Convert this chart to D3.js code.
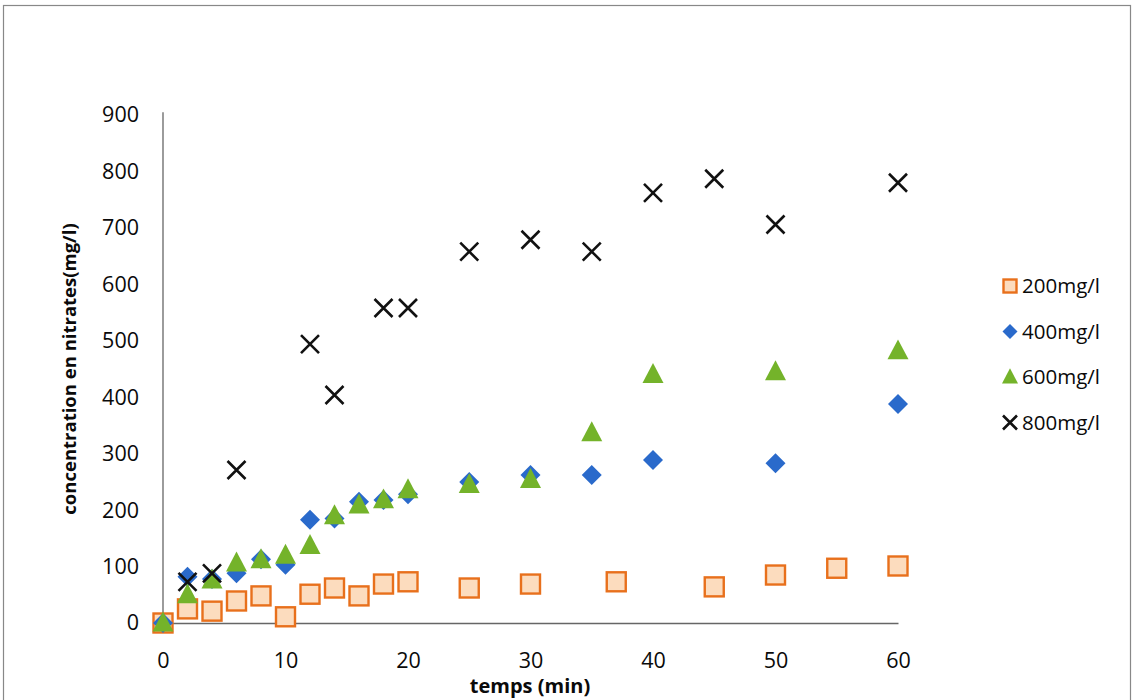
<!DOCTYPE html>
<html>
<head>
<meta charset="utf-8">
<script src="https://cdn.jsdelivr.net/npm/d3@7"></script>
<style>
  body { margin: 0; background: #fff; }
  svg { display: block; }
  text { font-family: "Open Sans", sans-serif; fill: #0a0a0a; }
</style>
</head>
<body>
<div id="chart"></div>
<script>
// times (min) per series
const t200 = [0, 2, 4, 6, 8, 10, 12, 14, 16, 18, 20, 25, 30, 37, 45, 50, 55, 60];
const c200 = [0, 25, 21, 39, 48, 11, 51, 62, 48, 69, 73, 62, 69, 73, 64, 85, 97, 101];

const t400 = [0, 2, 4, 6, 8, 10, 12, 14, 16, 18, 20, 25, 30, 35, 40, 50, 60];
const c400 = [0, 82, 78, 88, 113, 103, 183, 185, 215, 218, 228, 250, 262, 262, 289, 283, 388];

const t600 = [0, 2, 4, 6, 8, 10, 12, 14, 16, 18, 20, 25, 30, 35, 40, 50, 60];
const c600 = [0, 50, 76, 106, 112, 120, 137, 190, 209, 218, 236, 245, 254, 337, 440, 445, 482];

const t800 = [2, 4, 6, 12, 14, 18, 20, 25, 30, 35, 40, 45, 50, 60];
const c800 = [73, 88, 271, 494, 404, 558, 558, 658, 679, 658, 762, 787, 706, 780];

const xTicks = [0, 10, 20, 30, 40, 50, 60];
const yTicks = [0, 100, 200, 300, 400, 500, 600, 700, 800, 900];

const seriesNames = ['200mg/l', '400mg/l', '600mg/l', '800mg/l'];

const width = 1134, height = 700;

const svg = d3.select('#chart')
    .append('svg')
    .attr('width', width)
    .attr('height', height);

// outer frame
svg.append('rect')
    .attr('x', 3.5).attr('y', 5.5)
    .attr('width', 1127).attr('height', 720)
    .attr('fill', 'none')
    .attr('stroke', '#888')
    .attr('stroke-width', 1.2);

const x = d3.scaleLinear().domain([0, 60]).range([163, 898]);
const y = d3.scaleLinear().domain([0, 900]).range([623, 115]);

// axes
const xAxis = svg.append('g')
    .attr('transform', `translate(0,${y(0)})`)
    .call(d3.axisBottom(x).tickValues(xTicks).tickSize(0).tickPadding(30));
const yAxis = svg.append('g')
    .attr('transform', `translate(${x(0)},0)`)
    .call(d3.axisLeft(y).tickValues(yTicks).tickSize(0).tickPadding(24));

[xAxis, yAxis].forEach(g => {
    g.select('.domain').attr('stroke', '#666').attr('stroke-width', 1.3);
    g.selectAll('text')
        .style('font-family', '"Open Sans", sans-serif')
        .style('font-size', '21.5px')
        .attr('fill', '#0a0a0a');
});
yAxis.select('.domain').attr('d', `M0,${y(0)}V${y(905)}`);

// axis titles
svg.append('text')
    .attr('x', 530).attr('y', 693)
    .attr('text-anchor', 'middle')
    .style('font-weight', 'bold')
    .style('font-size', '20px')
    .text('temps (min)');

svg.append('text')
    .attr('transform', 'translate(76,369) rotate(-90)')
    .attr('text-anchor', 'middle')
    .style('font-weight', 'bold')
    .style('font-size', '18.5px')
    .text('concentration en nitrates(mg/l)');

// marker drawers
const drawSquare = (sel, s) => sel.append('rect')
    .attr('x', -s / 2).attr('y', -s / 2).attr('width', s).attr('height', s)
    .attr('fill', '#fcdcbe').attr('stroke', '#e8701c').attr('stroke-width', 2.4);
const drawDiamond = (sel, s) => sel.append('path')
    .attr('d', `M0,${-s / 2}L${s / 2},0L0,${s / 2}L${-s / 2},0Z`)
    .attr('fill', '#2a6acb');
const drawTriangle = (sel, s) => sel.append('path')
    .attr('d', `M0,${-s * 0.55}L${s / 2},${s * 0.4}L${-s / 2},${s * 0.4}Z`)
    .attr('fill', '#74b32a');
const drawCross = (sel, s) => sel.append('path')
    .attr('d', `M${-s / 2},${-s / 2}L${s / 2},${s / 2}M${s / 2},${-s / 2}L${-s / 2},${s / 2}`)
    .attr('stroke', '#111').attr('stroke-width', 2.6).attr('fill', 'none');

const series = [
    { t: t200, c: c200, draw: s => drawSquare(s, 19) },
    { t: t400, c: c400, draw: s => drawDiamond(s, 20) },
    { t: t600, c: c600, draw: s => drawTriangle(s, 21) },
    { t: t800, c: c800, draw: s => drawCross(s, 18) }
];

series.forEach(sr => {
    const pts = sr.t.map((tv, i) => ({ t: tv, c: sr.c[i] }));
    svg.append('g')
        .selectAll('g')
        .data(pts)
        .enter()
        .append('g')
        .attr('transform', d => `translate(${x(d.t)},${y(d.c)})`)
        .each(function () { sr.draw(d3.select(this)); });
});

// legend
const legend = svg.append('g').attr('transform', 'translate(1010,286)');
const legendItems = legend.selectAll('g')
    .data(seriesNames)
    .enter()
    .append('g')
    .attr('transform', (d, i) => `translate(0,${i * 45.5})`);

legendItems.each(function (d, i) {
    const g = d3.select(this);
    if (i === 0) drawSquare(g, 13);
    if (i === 1) drawDiamond(g, 15);
    if (i === 2) drawTriangle(g, 16);
    if (i === 3) drawCross(g, 14);
});

legendItems.append('text')
    .attr('x', 12)
    .attr('dy', '0.35em')
    .style('font-size', '20.5px')
    .text(d => d);
</script>
</body>
</html>
